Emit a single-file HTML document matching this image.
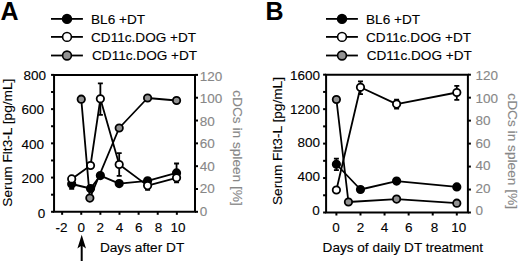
<!DOCTYPE html>
<html><head><meta charset="utf-8"><style>
html,body{margin:0;padding:0;background:#fff;}
svg{display:block;}
text{font-family:"Liberation Sans", sans-serif;stroke:#000;stroke-width:0.12px;}
.g{fill:#878787;stroke:#878787;}
</style></head><body>
<svg width="520" height="261" viewBox="0 0 520 261">
<line x1="51" y1="18.9" x2="82.9" y2="18.9" stroke="#000" stroke-width="1.8"/>
<circle cx="67" cy="18.9" r="4.4" fill="#000" stroke="#000" stroke-width="1.6"/>
<text x="91" y="23.599999999999998" font-size="13.6">BL6 +DT</text>
<line x1="51" y1="36.9" x2="82.9" y2="36.9" stroke="#000" stroke-width="1.8"/>
<circle cx="67" cy="36.9" r="4.4" fill="#fff" stroke="#000" stroke-width="1.6"/>
<text x="91" y="41.699999999999996" font-size="13.6">CD11c.DOG +DT</text>
<line x1="51" y1="55.5" x2="82.9" y2="55.5" stroke="#000" stroke-width="1.8"/>
<circle cx="67" cy="55.5" r="4.4" fill="#929292" stroke="#000" stroke-width="1.6"/>
<text x="92.0" y="60.2" font-size="13.6">CD11c.DOG +DT</text>
<text x="0.5" y="20" font-size="25" font-weight="bold" style="stroke:none">A</text>
<path d="M54.05 74.9 H195 V211.8 H54.05 Z" fill="none" stroke="#000" stroke-width="2.0" stroke-linejoin="miter"/>
<line x1="51.05" y1="211.80" x2="54.05" y2="211.80" stroke="#000" stroke-width="2.0"/>
<text x="45.25" y="217.65" font-size="13.5" text-anchor="end">0</text>
<line x1="51.05" y1="177.58" x2="54.05" y2="177.58" stroke="#000" stroke-width="2.0"/>
<text x="44.1" y="183.24" font-size="13.5" text-anchor="end">200</text>
<line x1="51.05" y1="143.35" x2="54.05" y2="143.35" stroke="#000" stroke-width="2.0"/>
<text x="44.1" y="148.83" font-size="13.5" text-anchor="end">400</text>
<line x1="51.05" y1="109.12" x2="54.05" y2="109.12" stroke="#000" stroke-width="2.0"/>
<text x="44.1" y="114.41" font-size="13.5" text-anchor="end">600</text>
<line x1="51.05" y1="74.90" x2="54.05" y2="74.90" stroke="#000" stroke-width="2.0"/>
<text x="46.05" y="80.00" font-size="13.5" text-anchor="end">800</text>
<line x1="51.05" y1="194.69" x2="54.05" y2="194.69" stroke="#000" stroke-width="2.0"/>
<line x1="51.05" y1="160.46" x2="54.05" y2="160.46" stroke="#000" stroke-width="2.0"/>
<line x1="51.05" y1="126.24" x2="54.05" y2="126.24" stroke="#000" stroke-width="2.0"/>
<line x1="51.05" y1="92.01" x2="54.05" y2="92.01" stroke="#000" stroke-width="2.0"/>
<line x1="195" y1="211.80" x2="198.0" y2="211.80" stroke="#000" stroke-width="2.0"/>
<text x="199.8" y="215.85" font-size="13.5" class="g">0</text>
<line x1="195" y1="188.98" x2="198.0" y2="188.98" stroke="#000" stroke-width="2.0"/>
<text x="199.8" y="193.32" font-size="13.5" class="g">20</text>
<line x1="195" y1="166.17" x2="198.0" y2="166.17" stroke="#000" stroke-width="2.0"/>
<text x="199.8" y="170.80" font-size="13.5" class="g">40</text>
<line x1="195" y1="143.35" x2="198.0" y2="143.35" stroke="#000" stroke-width="2.0"/>
<text x="199.8" y="148.28" font-size="13.5" class="g">60</text>
<line x1="195" y1="120.53" x2="198.0" y2="120.53" stroke="#000" stroke-width="2.0"/>
<text x="199.8" y="125.75" font-size="13.5" class="g">80</text>
<line x1="195" y1="97.72" x2="198.0" y2="97.72" stroke="#000" stroke-width="2.0"/>
<text x="199.8" y="103.22" font-size="13.5" class="g">100</text>
<line x1="195" y1="74.90" x2="198.0" y2="74.90" stroke="#000" stroke-width="2.0"/>
<text x="199.8" y="80.70" font-size="13.5" class="g">120</text>
<line x1="62.13" y1="211.8" x2="62.13" y2="214.8" stroke="#000" stroke-width="2.0"/>
<text x="61.53" y="231.5" font-size="13.5" text-anchor="middle">-2</text>
<line x1="81.25" y1="211.8" x2="81.25" y2="214.8" stroke="#000" stroke-width="2.0"/>
<text x="81.25" y="231.5" font-size="13.5" text-anchor="middle">0</text>
<line x1="100.37" y1="211.8" x2="100.37" y2="214.8" stroke="#000" stroke-width="2.0"/>
<text x="100.37" y="231.5" font-size="13.5" text-anchor="middle">2</text>
<line x1="119.49" y1="211.8" x2="119.49" y2="214.8" stroke="#000" stroke-width="2.0"/>
<text x="119.49" y="231.5" font-size="13.5" text-anchor="middle">4</text>
<line x1="138.61" y1="211.8" x2="138.61" y2="214.8" stroke="#000" stroke-width="2.0"/>
<text x="138.81" y="231.5" font-size="13.5" text-anchor="middle">6</text>
<line x1="157.73" y1="211.8" x2="157.73" y2="214.8" stroke="#000" stroke-width="2.0"/>
<text x="158.53" y="231.5" font-size="13.5" text-anchor="middle">8</text>
<line x1="176.85" y1="211.8" x2="176.85" y2="214.8" stroke="#000" stroke-width="2.0"/>
<text x="178.05" y="231.5" font-size="13.5" text-anchor="middle">10</text>
<text transform="translate(12.2,142.65) rotate(-90)" font-size="13.7" text-anchor="middle">Serum Flt3-L [pg/mL]</text>
<text transform="translate(233.4,148) rotate(90)" font-size="13.7" text-anchor="middle" class="g">cDCs in spleen [%]</text>
<text x="142.1" y="252.2" font-size="13.7" text-anchor="middle">Days after DT</text>
<path d="M71.69 184 L90.52 188.5 L100.37 175.6 L119.20 183.6 L147.60 180.8 L176.56 172.9" fill="none" stroke="#000" stroke-width="1.8" stroke-linejoin="round"/>
<path d="M71.69 181 V188.8 M69.19 181 H74.19 M69.19 188.8 H74.19" stroke="#000" stroke-width="1.8" fill="none"/>
<path d="M176.56 163.5 V182.4 M174.06 163.5 H179.06 M174.06 182.4 H179.06" stroke="#000" stroke-width="1.8" fill="none"/>
<circle cx="71.69" cy="184" r="3.7" fill="#000" stroke="#000" stroke-width="1.8"/>
<circle cx="90.52" cy="188.5" r="3.7" fill="#000" stroke="#000" stroke-width="1.8"/>
<circle cx="100.37" cy="175.6" r="3.7" fill="#000" stroke="#000" stroke-width="1.8"/>
<circle cx="119.20" cy="183.6" r="3.7" fill="#000" stroke="#000" stroke-width="1.8"/>
<circle cx="147.60" cy="180.8" r="3.7" fill="#000" stroke="#000" stroke-width="1.8"/>
<circle cx="176.56" cy="172.9" r="3.7" fill="#000" stroke="#000" stroke-width="1.8"/>
<path d="M71.69 178.9 L90.52 165.5 L100.37 98.8 L119.20 164.5 L147.60 185.6 L176.56 177.8" fill="none" stroke="#000" stroke-width="1.8" stroke-linejoin="round"/>
<path d="M100.37 83.4 V114.8 M97.87 83.4 H102.87 M97.87 114.8 H102.87" stroke="#000" stroke-width="1.8" fill="none"/>
<path d="M119.20 153.1 V175.8 M116.70 153.1 H121.70 M116.70 175.8 H121.70" stroke="#000" stroke-width="1.8" fill="none"/>
<path d="M147.60 182 V189.8 M145.10 182 H150.10 M145.10 189.8 H150.10" stroke="#000" stroke-width="1.8" fill="none"/>
<circle cx="71.69" cy="178.9" r="3.7" fill="#fff" stroke="#000" stroke-width="1.8"/>
<circle cx="90.52" cy="165.5" r="3.7" fill="#fff" stroke="#000" stroke-width="1.8"/>
<circle cx="100.37" cy="98.8" r="3.7" fill="#fff" stroke="#000" stroke-width="1.8"/>
<circle cx="119.20" cy="164.5" r="3.7" fill="#fff" stroke="#000" stroke-width="1.8"/>
<circle cx="147.60" cy="185.6" r="3.7" fill="#fff" stroke="#000" stroke-width="1.8"/>
<circle cx="176.56" cy="177.8" r="3.7" fill="#fff" stroke="#000" stroke-width="1.8"/>
<path d="M81.25 99.2 L89.85 198.1 L119.20 128 L147.60 98 L176.56 100.5" fill="none" stroke="#000" stroke-width="1.8" stroke-linejoin="round"/>
<circle cx="81.25" cy="99.2" r="3.7" fill="#929292" stroke="#000" stroke-width="1.8"/>
<circle cx="89.85" cy="198.1" r="3.7" fill="#929292" stroke="#000" stroke-width="1.8"/>
<circle cx="119.20" cy="128" r="3.7" fill="#929292" stroke="#000" stroke-width="1.8"/>
<circle cx="147.60" cy="98" r="3.7" fill="#929292" stroke="#000" stroke-width="1.8"/>
<circle cx="176.56" cy="100.5" r="3.7" fill="#929292" stroke="#000" stroke-width="1.8"/>
<line x1="326" y1="18.9" x2="357.9" y2="18.9" stroke="#000" stroke-width="1.8"/>
<circle cx="342" cy="18.9" r="4.4" fill="#000" stroke="#000" stroke-width="1.6"/>
<text x="366" y="23.599999999999998" font-size="13.6">BL6 +DT</text>
<line x1="326" y1="36.9" x2="357.9" y2="36.9" stroke="#000" stroke-width="1.8"/>
<circle cx="342" cy="36.9" r="4.4" fill="#fff" stroke="#000" stroke-width="1.6"/>
<text x="366" y="41.699999999999996" font-size="13.6">CD11c.DOG +DT</text>
<line x1="326" y1="55.5" x2="357.9" y2="55.5" stroke="#000" stroke-width="1.8"/>
<circle cx="342" cy="55.5" r="4.4" fill="#929292" stroke="#000" stroke-width="1.6"/>
<text x="366.7" y="60.2" font-size="13.6">CD11c.DOG +DT</text>
<text x="265.6" y="19.7" font-size="25" font-weight="bold" style="stroke:none">B</text>
<path d="M326.1 74.7 H467.9 V212.5 H326.1 Z" fill="none" stroke="#000" stroke-width="2.0" stroke-linejoin="miter"/>
<line x1="323.1" y1="212.50" x2="326.1" y2="212.50" stroke="#000" stroke-width="2.0"/>
<text x="319.65" y="215.20" font-size="13.5" text-anchor="end">0</text>
<line x1="323.1" y1="178.05" x2="326.1" y2="178.05" stroke="#000" stroke-width="2.0"/>
<text x="320.05" y="181.34" font-size="13.5" text-anchor="end">400</text>
<line x1="323.1" y1="143.60" x2="326.1" y2="143.60" stroke="#000" stroke-width="2.0"/>
<text x="320.05" y="147.47" font-size="13.5" text-anchor="end">800</text>
<line x1="323.1" y1="109.15" x2="326.1" y2="109.15" stroke="#000" stroke-width="2.0"/>
<text x="320.05" y="113.61" font-size="13.5" text-anchor="end">1200</text>
<line x1="323.1" y1="74.70" x2="326.1" y2="74.70" stroke="#000" stroke-width="2.0"/>
<text x="320.05" y="79.74" font-size="13.5" text-anchor="end">1600</text>
<line x1="323.1" y1="195.28" x2="326.1" y2="195.28" stroke="#000" stroke-width="2.0"/>
<line x1="323.1" y1="160.82" x2="326.1" y2="160.82" stroke="#000" stroke-width="2.0"/>
<line x1="323.1" y1="126.38" x2="326.1" y2="126.38" stroke="#000" stroke-width="2.0"/>
<line x1="323.1" y1="91.92" x2="326.1" y2="91.92" stroke="#000" stroke-width="2.0"/>
<line x1="467.9" y1="212.50" x2="470.9" y2="212.50" stroke="#000" stroke-width="2.0"/>
<text x="475.5" y="215.30" font-size="13.5" class="g">0</text>
<line x1="467.9" y1="189.53" x2="470.9" y2="189.53" stroke="#000" stroke-width="2.0"/>
<text x="475.5" y="192.82" font-size="13.5" class="g">20</text>
<line x1="467.9" y1="166.57" x2="470.9" y2="166.57" stroke="#000" stroke-width="2.0"/>
<text x="475.5" y="170.35" font-size="13.5" class="g">40</text>
<line x1="467.9" y1="143.60" x2="470.9" y2="143.60" stroke="#000" stroke-width="2.0"/>
<text x="475.5" y="147.87" font-size="13.5" class="g">60</text>
<line x1="467.9" y1="120.63" x2="470.9" y2="120.63" stroke="#000" stroke-width="2.0"/>
<text x="475.5" y="125.40" font-size="13.5" class="g">80</text>
<line x1="467.9" y1="97.67" x2="470.9" y2="97.67" stroke="#000" stroke-width="2.0"/>
<text x="475.5" y="102.92" font-size="13.5" class="g">100</text>
<line x1="467.9" y1="74.70" x2="470.9" y2="74.70" stroke="#000" stroke-width="2.0"/>
<text x="475.5" y="80.45" font-size="13.5" class="g">120</text>
<line x1="336.40" y1="212.5" x2="336.40" y2="215.5" stroke="#000" stroke-width="2.0"/>
<text x="336.00" y="231.5" font-size="13.5" text-anchor="middle">0</text>
<line x1="360.48" y1="212.5" x2="360.48" y2="215.5" stroke="#000" stroke-width="2.0"/>
<text x="360.48" y="231.5" font-size="13.5" text-anchor="middle">2</text>
<line x1="384.56" y1="212.5" x2="384.56" y2="215.5" stroke="#000" stroke-width="2.0"/>
<text x="384.56" y="231.5" font-size="13.5" text-anchor="middle">4</text>
<line x1="408.64" y1="212.5" x2="408.64" y2="215.5" stroke="#000" stroke-width="2.0"/>
<text x="408.64" y="231.5" font-size="13.5" text-anchor="middle">6</text>
<line x1="432.72" y1="212.5" x2="432.72" y2="215.5" stroke="#000" stroke-width="2.0"/>
<text x="434.52" y="231.5" font-size="13.5" text-anchor="middle">8</text>
<line x1="456.80" y1="212.5" x2="456.80" y2="215.5" stroke="#000" stroke-width="2.0"/>
<text x="458.70" y="231.5" font-size="13.5" text-anchor="middle">10</text>
<text transform="translate(282.3,141.0) rotate(-90)" font-size="13.7" text-anchor="middle">Serum Flt3-L [pg/mL]</text>
<text transform="translate(508.2,151.15) rotate(90)" font-size="13.7" text-anchor="middle" class="g">cDCs in spleen [%]</text>
<text x="402.85" y="252.2" font-size="13.58" text-anchor="middle">Days of daily DT treatment</text>
<path d="M336.40 164.25 L360.48 189.5 L396.60 181.1 L456.80 186.9" fill="none" stroke="#000" stroke-width="1.8" stroke-linejoin="round"/>
<path d="M336.40 158.7 V170.2 M333.90 158.7 H338.90 M333.90 170.2 H338.90" stroke="#000" stroke-width="1.8" fill="none"/>
<circle cx="336.40" cy="164.25" r="3.7" fill="#000" stroke="#000" stroke-width="1.8"/>
<circle cx="360.48" cy="189.5" r="3.7" fill="#000" stroke="#000" stroke-width="1.8"/>
<circle cx="396.60" cy="181.1" r="3.7" fill="#000" stroke="#000" stroke-width="1.8"/>
<circle cx="456.80" cy="186.9" r="3.7" fill="#000" stroke="#000" stroke-width="1.8"/>
<path d="M336.40 190 L360.48 87.3 L396.60 104.1 L456.80 92.5" fill="none" stroke="#000" stroke-width="1.8" stroke-linejoin="round"/>
<path d="M360.48 81.4 V94.1 M357.98 81.4 H362.98 M357.98 94.1 H362.98" stroke="#000" stroke-width="1.8" fill="none"/>
<path d="M396.60 99.7 V108.5 M394.10 99.7 H399.10 M394.10 108.5 H399.10" stroke="#000" stroke-width="1.8" fill="none"/>
<path d="M456.80 85.8 V99.8 M454.30 85.8 H459.30 M454.30 99.8 H459.30" stroke="#000" stroke-width="1.8" fill="none"/>
<circle cx="336.40" cy="190" r="3.7" fill="#fff" stroke="#000" stroke-width="1.8"/>
<circle cx="360.48" cy="87.3" r="3.7" fill="#fff" stroke="#000" stroke-width="1.8"/>
<circle cx="396.60" cy="104.1" r="3.7" fill="#fff" stroke="#000" stroke-width="1.8"/>
<circle cx="456.80" cy="92.5" r="3.7" fill="#fff" stroke="#000" stroke-width="1.8"/>
<path d="M336.40 99.5 L348.44 202 L396.60 199.1 L456.80 203.2" fill="none" stroke="#000" stroke-width="1.8" stroke-linejoin="round"/>
<circle cx="336.40" cy="99.5" r="3.7" fill="#929292" stroke="#000" stroke-width="1.8"/>
<circle cx="348.44" cy="202" r="3.7" fill="#929292" stroke="#000" stroke-width="1.8"/>
<circle cx="396.60" cy="199.1" r="3.7" fill="#929292" stroke="#000" stroke-width="1.8"/>
<circle cx="456.80" cy="203.2" r="3.7" fill="#929292" stroke="#000" stroke-width="1.8"/>
<path d="M81.7 261 V244" stroke="#000" stroke-width="2"/>
<path d="M81.7 234.8 L86.0 248.4 L81.7 245.6 L77.4 248.4 Z" fill="#000"/>
</svg>
</body></html>
